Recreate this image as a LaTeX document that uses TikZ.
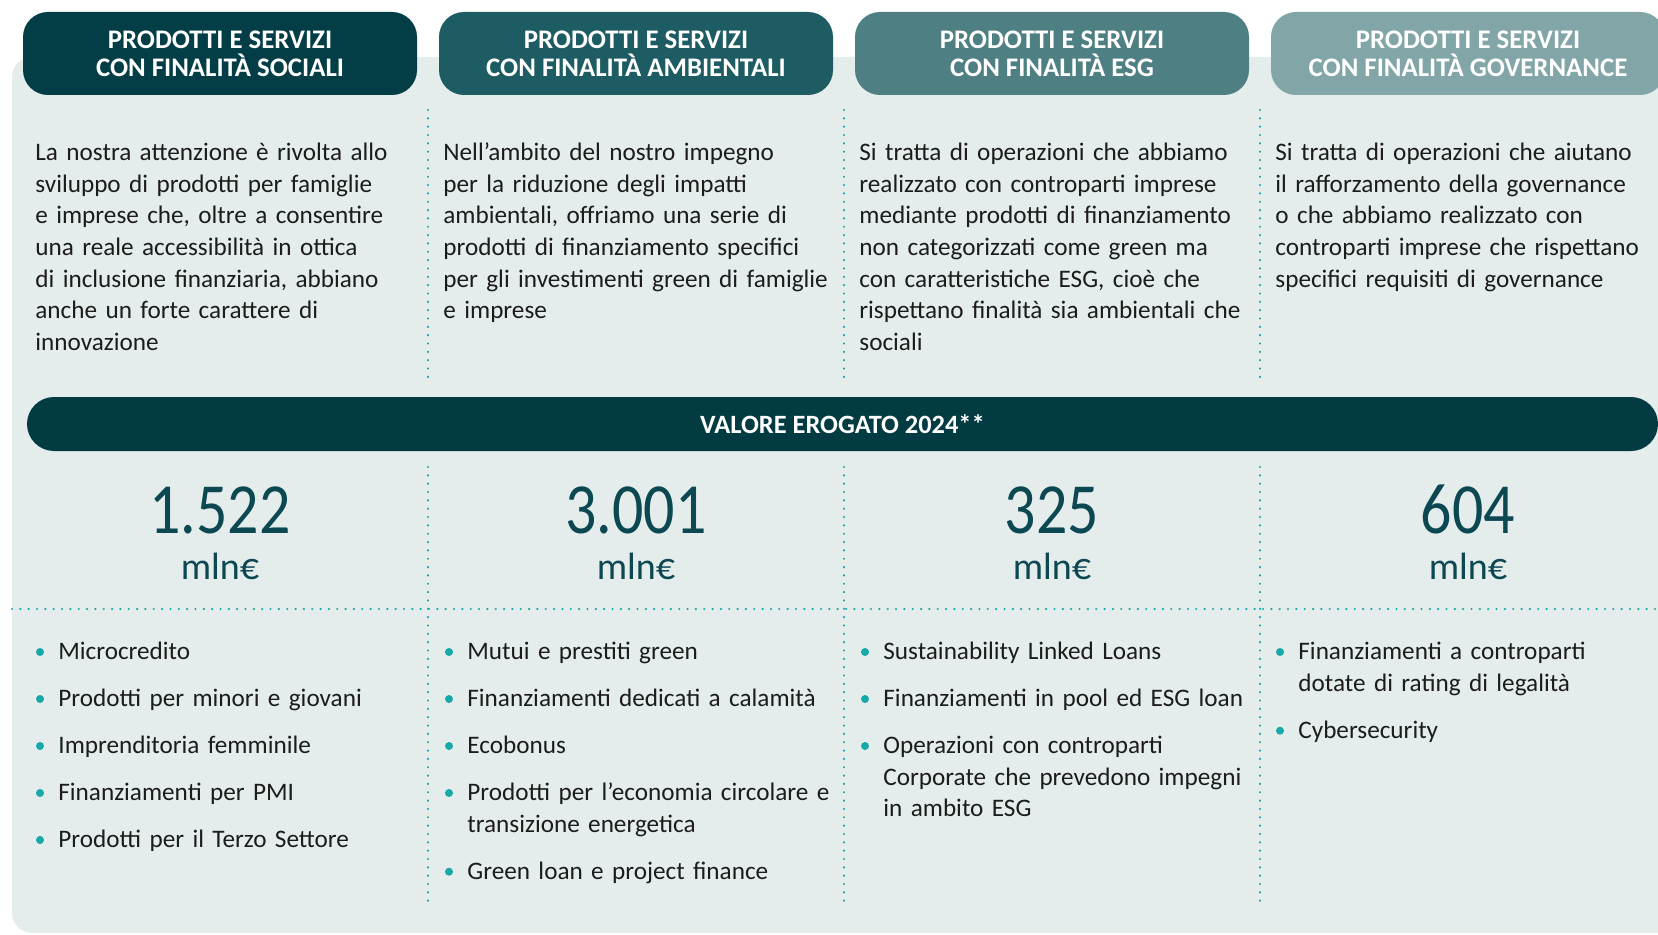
\documentclass[tikz,border=0pt]{standalone}
\usepackage{fontspec}
\setmainfont{Carlito}
\newfontfamily\cifrefont[FakeStretch=0.86]{Carlito}
\usetikzlibrary{positioning}

\definecolor{verdeA}{HTML}{033E46}
\definecolor{verdeB}{HTML}{1D5C62}
\definecolor{verdeC}{HTML}{4E7F82}
\definecolor{verdeD}{HTML}{82A5A7}
\definecolor{fondo}{HTML}{E4ECEC}
\definecolor{barra}{HTML}{023B41}
\definecolor{punti}{HTML}{17A9A8}
\definecolor{cifre}{HTML}{0B4852}
\definecolor{testo}{HTML}{1C1C1C}

\begin{document}
\begin{tikzpicture}[x=0.5pt, y=-0.5pt,
    titolo/.style={rounded corners=12.5pt, minimum width=197pt, minimum height=41.5pt,
        inner sep=0pt, text=white, align=center,
        font=\bfseries\fontsize{13.4}{14}\selectfont},
    corpo/.style={anchor=north west, inner sep=0pt, text width=205pt, align=left,
        text=testo, font=\fontsize{12.6}{15.85}\selectfont, execute at begin node=\strut},
    voce/.style={corpo, text width=200pt},
    cifra/.style={anchor=base, inner sep=0pt, text=cifre, font=\cifrefont\fontsize{36}{40}\selectfont},
    unita/.style={anchor=base, inner sep=0pt, text=cifre, font=\fontsize{19}{21}\selectfont},
    puntini/.style={punti, line width=1.2pt, line cap=round, dash pattern=on 0pt off 4.17pt}]

    \useasboundingbox (0,0) rectangle (1658,935);
    \clip (0,0) rectangle (1658,935);

    % fondo
    \fill[fondo, rounded corners=10pt] (12,57) rectangle (1720,933);

    % intestazioni
    \node[titolo, fill=verdeA] (t1) at (220,53.5) {PRODOTTI E SERVIZI\\CON FINALITÀ SOCIALI};
    \node[titolo, fill=verdeB] (t2) at (636,53.5) {PRODOTTI E SERVIZI\\CON FINALITÀ AMBIENTALI};
    \node[titolo, fill=verdeC] (t3) at (1052,53.5) {PRODOTTI E SERVIZI\\CON FINALITÀ ESG};
    \node[titolo, fill=verdeD] (t4) at (1468,53.5) {PRODOTTI E SERVIZI\\CON FINALITÀ GOVERNANCE};

    % separatori
    \foreach \x in {428, 844, 1260} {
        \draw[puntini] (\x,110) -- (\x,380);
        \draw[puntini] (\x,467) -- (\x,907);
    }
    \draw[puntini] (12,609) -- (1658,609);

    % descrizioni
    \node[corpo] (d1) at (35,137.8) {La nostra attenzione è rivolta allo\\
        sviluppo di prodotti per famiglie\\
        e imprese che, oltre a consentire\\
        una reale accessibilità in ottica\\
        di inclusione finanziaria, abbiano\\
        anche un forte carattere di\\
        innovazione};
    \node[corpo] (d2) at (443,137.8) {Nell’ambito del nostro impegno\\
        per la riduzione degli impatti\\
        ambientali, offriamo una serie di\\
        prodotti di finanziamento specifici\\
        per gli investimenti green di famiglie\\
        e imprese};
    \node[corpo] (d3) at (859,137.8) {Si tratta di operazioni che abbiamo\\
        realizzato con controparti imprese\\
        mediante prodotti di finanziamento\\
        non categorizzati come green ma\\
        con caratteristiche ESG, cioè che\\
        rispettano finalità sia ambientali che\\
        sociali};
    \node[corpo] (d4) at (1275,137.8) {Si tratta di operazioni che aiutano\\
        il rafforzamento della governance\\
        o che abbiamo realizzato con\\
        controparti imprese che rispettano\\
        specifici requisiti di governance};

    % barra valore
    \node[fill=barra, rounded corners=13.5pt, minimum width=815.5pt, minimum height=27pt,
        inner sep=0pt, text=white, font=\bfseries\fontsize{13.2}{14}\selectfont]
        (valore) at (842.5,424) {VALORE EROGATO 2024**};

    % importi
    \node[cifra] (n1) at (220,533) {1.522};
    \node[cifra] (n2) at (636,533) {3.001};
    \node[cifra] (n3) at (1052,533) {325};
    \node[cifra] (n4) at (1468,533) {604};
    \foreach \i/\x in {1/220, 2/636, 3/1052, 4/1468}
        \node[unita] (u\i) at (\x,579) {mln€};

    % elenchi
    \node[voce] (s1) at (58,636.8) {Microcredito};
    \node[voce] (s2) at (58,683.8) {Prodotti per minori e giovani};
    \node[voce] (s3) at (58,730.8) {Imprenditoria femminile};
    \node[voce] (s4) at (58,777.8) {Finanziamenti per PMI};
    \node[voce] (s5) at (58,824.8) {Prodotti per il Terzo Settore};

    \node[voce] (a1) at (467,636.8) {Mutui e prestiti green};
    \node[voce] (a2) at (467,683.8) {Finanziamenti dedicati a calamità};
    \node[voce] (a3) at (467,730.8) {Ecobonus};
    \node[voce] (a4) at (467,777.8) {Prodotti per l’economia circolare e\\transizione energetica};
    \node[voce] (a5) at (467,856.5) {Green loan e project finance};

    \node[voce] (e1) at (883,636.8) {Sustainability Linked Loans};
    \node[voce] (e2) at (883,683.8) {Finanziamenti in pool ed ESG loan};
    \node[voce] (e3) at (883,730.8) {Operazioni con controparti\\Corporate che prevedono impegni\\in ambito ESG};

    \node[voce] (g1) at (1298,636.8) {Finanziamenti a controparti\\dotate di rating di legalità};
    \node[voce] (g2) at (1298,715.5) {Cybersecurity};

    \foreach \v in {s1,s2,s3,s4,s5,a1,a2,a3,a4,a5,e1,e2,e3,g1,g2}
        \fill[punti] (\v.north west) ++(-18,15.2) circle (4);

\end{tikzpicture}
\end{document}
